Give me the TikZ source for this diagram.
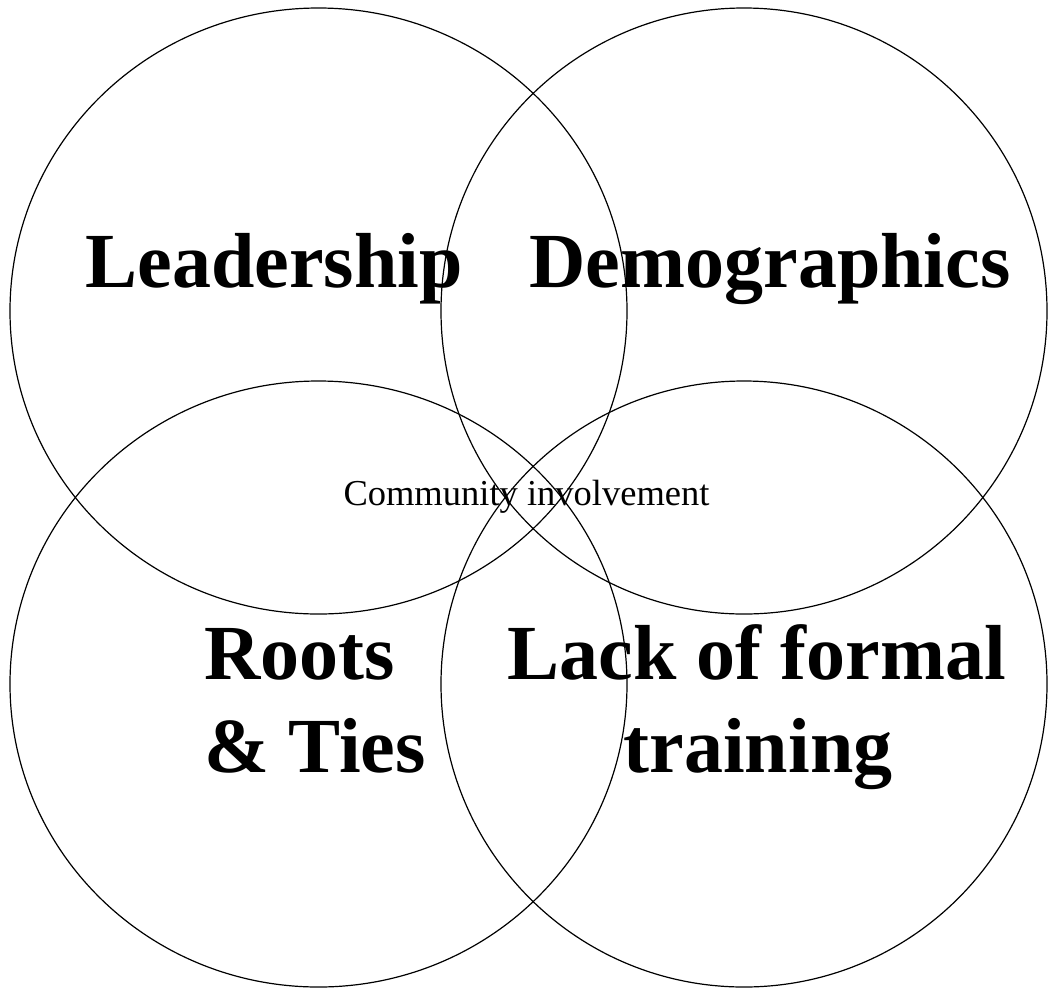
\documentclass[tikz,border=0pt]{standalone}
\usepackage{fontspec}
\setmainfont{Liberation Serif}
\begin{document}
\begin{tikzpicture}[x=1pt,y=-1pt,
  ring/.style={draw=black,line width=1.2pt},
  big/.style={font=\fontsize{78}{93}\selectfont\bfseries,inner sep=0pt,anchor=base},
  small/.style={font=\fontsize{36.5}{40}\selectfont,inner sep=0pt,anchor=base}]
\useasboundingbox (0,0) rectangle (1049,989);
\draw[ring] (318.5,311) ellipse [x radius=308.5, y radius=303];
\draw[ring] (744,311) ellipse [x radius=303, y radius=303];
\draw[ring] (318.5,684) ellipse [x radius=308.5, y radius=303];
\draw[ring] (744,684) ellipse [x radius=303, y radius=303];
\node[big] (lead) at (274,287) {Leadership};
\node[big] (demo) at (770,287) {Demographics};
\node[big,anchor=base west] (roots) at (204,679) {Roots};
\node[big,anchor=base west] (ties) at (204,772) {\& Ties};
\node[big] (lack) at (757,679) {Lack of formal};
\node[big] (train) at (758,772) {training};
\node[small] (comm) at (526.5,505) {Community involvement};
\end{tikzpicture}
\end{document}
